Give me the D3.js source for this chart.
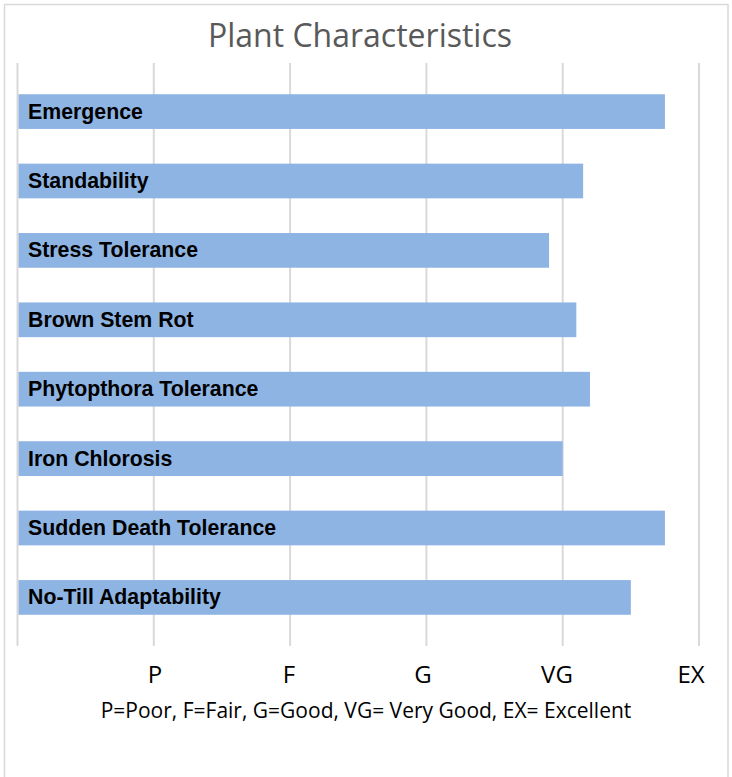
<!DOCTYPE html>
<html>
<head>
<meta charset="utf-8">
<script src="https://cdn.jsdelivr.net/npm/d3@7"></script>
<style>
  html, body { margin: 0; padding: 0; background: #fff; }
  svg { display: block; }
</style>
</head>
<body>
<svg id="chart"></svg>
<script>
// Chart data
const categories = ['Emergence', 'Standability', 'Stress Tolerance', 'Brown Stem Rot',
  'Phytopthora Tolerance', 'Iron Chlorosis', 'Sudden Death Tolerance', 'No-Till Adaptability'];
const ratings = [4.75, 4.15, 3.9, 4.1, 4.2, 4.0, 4.75, 4.5];
const tickValues = [0, 1, 2, 3, 4, 5];
const tickLabels = ['P', 'F', 'G', 'VG', 'EX'];
const titleText = 'Plant Characteristics';
const footnote = 'P=Poor, F=Fair, G=Good, VG= Very Good, EX= Excellent';

const width = 732;
const height = 777;

const svg = d3.select('#chart')
    .attr('width', width)
    .attr('height', height);

// chart frame
svg.append('rect')
    .attr('x', 4.5)
    .attr('y', 4.5)
    .attr('width', 723.5)
    .attr('height', 800)
    .attr('fill', '#fff')
    .attr('stroke', '#d9d9d9')
    .attr('stroke-width', 1.5);

// scales
const x = d3.scaleLinear().domain([0, 5]).range([17.5, 699]);
const y = d3.scaleBand()
    .domain(categories)
    .range([63, 646])
    .paddingInner(0.5)
    .paddingOuter(0.45);

// labels sit in a text box under the plot, not exactly on the gridlines
const labelX = d3.scaleLinear().domain([1, 5]).range([155, 691]);

// title
svg.append('text')
    .attr('x', 360)
    .attr('y', 47)
    .attr('text-anchor', 'middle')
    .attr('font-family', 'Open Sans, sans-serif')
    .attr('font-size', 32)
    .attr('fill', '#595959')
    .text(titleText);

// vertical gridlines
svg.append('g')
    .selectAll('line')
    .data(tickValues)
    .join('line')
    .attr('x1', d => x(d))
    .attr('x2', d => x(d))
    .attr('y1', 63)
    .attr('y2', 646)
    .attr('stroke', '#d9d9d9')
    .attr('stroke-width', 2);

// bars
svg.append('g')
    .selectAll('rect')
    .data(ratings)
    .join('rect')
    .attr('x', x(0) + 1)
    .attr('y', (d, i) => y(categories[i]))
    .attr('width', d => x(d) - x(0) - 1)
    .attr('height', y.bandwidth())
    .attr('fill', '#8eb4e3');

// category labels inside the bars
svg.append('g')
    .selectAll('text')
    .data(categories)
    .join('text')
    .attr('x', 28)
    .attr('y', d => y(d) + y.bandwidth() / 2 + 7)
    .attr('font-family', 'Liberation Sans, Arial, sans-serif')
    .attr('font-weight', 'bold')
    .attr('font-size', 21.3)
    .attr('fill', '#000')
    .text(d => d);

// rating labels
svg.append('g')
    .selectAll('text')
    .data(tickLabels)
    .join('text')
    .attr('x', (d, i) => labelX(i + 1))
    .attr('y', 683)
    .attr('text-anchor', 'middle')
    .attr('font-family', 'Open Sans, sans-serif')
    .attr('font-size', 24)
    .attr('fill', '#000')
    .text(d => d);

// legend for abbreviations
svg.append('text')
    .attr('x', 366)
    .attr('y', 718)
    .attr('text-anchor', 'middle')
    .attr('font-family', 'Open Sans, sans-serif')
    .attr('font-size', 21)
    .attr('fill', '#000')
    .text(footnote);
</script>
</body>
</html>
